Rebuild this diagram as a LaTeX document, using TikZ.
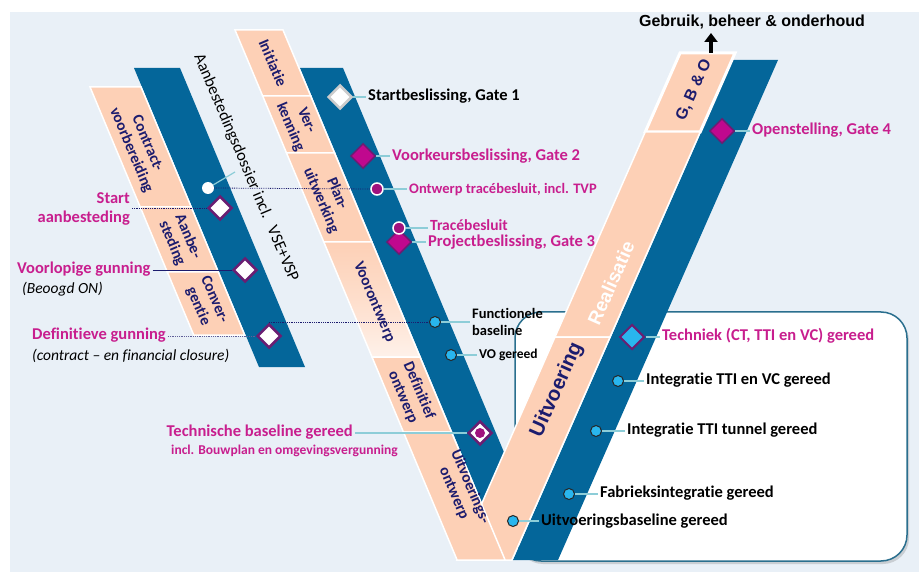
\documentclass[tikz,border=0pt]{standalone}
\usepackage{fontspec}
\setmainfont{Carlito}[Ligatures=NoCommon]
\newfontfamily\arialf{Liberation Sans}
\usetikzlibrary{arrows.meta,shapes.geometric,shadows}
\definecolor{bgc}{HTML}{E9F0F7}
\definecolor{peachc}{HTML}{FDD0B6}
\definecolor{bandc}{HTML}{04669A}
\definecolor{navyc}{HTML}{1C1C6E}
\definecolor{magc}{HTML}{C81E8E}
\definecolor{dmagc}{HTML}{C0088E}
\definecolor{purpc}{HTML}{6A1E72}
\definecolor{pdotc}{HTML}{A0127E}
\definecolor{cyanc}{HTML}{29B6EE}
\definecolor{tealc}{HTML}{8DCDD8}
\definecolor{boxc}{HTML}{2A6F8E}
\begin{document}
\begin{tikzpicture}[x=1pt,y=-1pt,
  seg/.style={fill=peachc, draw=white, line width=1.5pt, line join=miter},
  bandf/.style={fill=bandc},
  phase/.style={text=navyc, font=\fontsize{15.5}{17.5}\selectfont\bfseries, align=center, inner sep=0pt},
  lab/.style={anchor=west, inner xsep=2pt, inner ysep=0pt, text height=0.64em, text depth=0pt},
  labl/.style={anchor=east, inner xsep=2pt, inner ysep=0pt, text height=0.64em, text depth=0pt},
  fbig/.style={font=\fontsize{16.5}{19}\selectfont\bfseries},
  fmid/.style={font=\fontsize{16.5}{19}\selectfont\bfseries},
  fsml/.style={font=\fontsize{14.5}{16.5}\selectfont\bfseries},
  fit/.style={font=\fontsize{15.5}{17}\selectfont\itshape},
  wdia/.style={diamond, fill=white, draw=purpc, line width=2.5pt, minimum size=24pt, inner sep=0pt},
  mdia/.style={diamond, fill=dmagc, draw=purpc, line width=1.5pt, minimum size=25pt, inner sep=0pt},
  cdot/.style={circle, fill=cyanc, draw=black!85, line width=1pt, minimum size=11pt, inner sep=0pt},
  pdot/.style={circle, fill=pdotc, draw=white, line width=1.5pt, minimum size=12pt, inner sep=0pt},
  ptr/.style={draw=tealc, line width=1.2pt},
  dotl/.style={draw=navyc, densely dotted, line width=0.8pt}
]
% background
\fill[white] (0,0) rectangle (919,572);
\fill[bgc] (10,12) rectangle (919,572);
\useasboundingbox (0,0) rectangle (919,572);
% rounded box
\draw[fill=white, draw=boxc, line width=1.5pt, rounded corners=26pt,
  drop shadow={opacity=0.3, shadow xshift=2pt, shadow yshift=-3pt}] (515,312) rectangle (907,561);

% secondary arm
\fill[bandf] (134,68) -- (180,68) -- (305,367) -- (259,367) -- cycle;
\path[seg] (90,87) -- (141,87) -- (191.2,207) -- (140.2,207) -- cycle;
\path[seg] (140.2,207) -- (191.2,207) -- (218.3,272) -- (167.3,272) -- cycle;
\path[seg] (167.3,272) -- (218.3,272) -- (244.7,335) -- (193.7,335) -- cycle;

% left arm blue
\fill[bandf] (300,68) -- (343,68) -- (526.1,505) -- (483.1,505) -- cycle;
% right arm blue
\fill[bandf] (733,60) -- (778,60) -- (558,560) -- (513,560) -- cycle;
% right arm peach
\path[seg, line width=3pt] (680,53) -- (735,53) -- (700.2,132) -- (645.2,132) -- cycle;
\path[seg] (645.2,132) -- (700.2,132) -- (610,337) -- (555,337) -- cycle;
\path[seg] (555,337) -- (610,337) -- (511.9,560) -- (456.9,560) -- cycle;
% left arm peach
\path[seg] (235,30) -- (283,30) -- (310.7,96) -- (262.7,96) -- cycle;
\path[seg] (262.7,96) -- (310.7,96) -- (334.5,153) -- (286.5,153) -- cycle;
\path[seg] (286.5,153) -- (334.5,153) -- (371.8,242) -- (323.8,242) -- cycle;
\path[top color=peachc, bottom color=peachc!30!white, middle color=peachc!70!white] (323.8,242) -- (371.8,242) -- (420,357) -- (372,357) -- cycle;
\path[draw=white, line width=1.5pt] (323.8,242) -- (371.8,242) -- (420,357) -- (372,357) -- cycle;
\path[seg] (372,357) -- (420,357) -- (451.4,432) -- (403.4,432) -- cycle;
\path[seg] (403.4,432) -- (451.4,432) -- (505.1,560) -- (457.1,560) -- cycle;

% phase texts
\node[phase, rotate=-67] (p1) at (273,63) {Initiatie};
\node[phase, rotate=-67] (p2) at (298,124) {Ver-\\kenning};
\node[phase, rotate=-67] (p3) at (329,197) {Plan-\\uitwerking};
\node[phase, rotate=-67] (p4) at (374,302) {Voorontwerp};
\node[phase, rotate=-67] (p5) at (411,394) {Definitief\\ontwerp};
\node[phase, rotate=-67] (p6) at (462,490) {Uitvoerings-\\ontwerp};
\node[phase, rotate=-67] (s1) at (139,147) {Contract-\\voorbereiding};
\node[phase, rotate=-67] (s2) at (180,240) {Aanbe-\\steding};
\node[phase, rotate=-67] (s3) at (206,303) {Conver-\\gentie};
\node[inner sep=0pt, rotate=66, text=navyc, font=\arialf\fontsize{16}{18}\selectfont\bfseries] (r3) at (694,90) {G, B \& O};
\node[inner sep=0pt, rotate=66, text=white, font=\arialf\fontsize{19}{21}\selectfont\bfseries] (r2) at (611,283) {Realisatie};
\node[inner sep=0pt, rotate=66, text=navyc, font=\arialf\fontsize{20.5}{22}\selectfont\bfseries] (r1) at (557,390) {Uitvoering};

% aanbestedingsdossier text
\node[inner sep=0pt, rotate=-67, font=\fontsize{16.5}{18}\selectfont] (adoss) at (246,168) {Aanbestedingsdossier incl.\hspace{10pt}VSE+VSP};

% top
\node[inner sep=0pt, font=\arialf\fontsize{16}{18}\selectfont\bfseries] (gbo) at (752,22) {Gebruik, beheer \& onderhoud};
\coordinate (arb) at (711,53);
\coordinate (art) at (711,33);
\draw[line width=4pt, -{Triangle[width=13pt,length=9pt]}] (arb) -- (art);

% milestones
\node[wdia, draw=black!20] (g1) at (340,97) {};
\node[mdia] (g2) at (363,156) {};
\node[pdot] (otb) at (377,189) {};
\node[mdia] (g3) at (399,242) {};
\node[pdot] (tb) at (399,228) {};
\node[cdot] (fb) at (435,322) {};
\node[cdot] (vo) at (451,355) {};
\node[wdia, line width=2.5pt] (tbg) at (480,433) {};
\node[circle, fill=pdotc, minimum size=10pt, inner sep=0pt] (tbgi) at (480,433) {};
\node[cdot] (ub) at (513,521) {};
\node[cdot] (fi) at (569,494) {};
\node[cdot] (tt) at (596,431) {};
\node[cdot] (tv) at (618,381) {};
\node[mdia, fill=cyanc, line width=2pt] (tc) at (632,337) {};
\node[mdia] (g4) at (722,131) {};
\node[wdia] (sa) at (220,208) {};
\node[wdia] (vg) at (245,270) {};
\node[wdia] (dg) at (269,336) {};
\node[circle, fill=white, minimum size=12pt, inner sep=0pt] (wc) at (208,188) {};
\coordinate (aptr) at (235,172);

% labels
\node[lab, fbig] (lg1) at (366,97) {Startbeslissing, Gate 1};
\node[lab, fbig, text=magc] (lg2) at (390,157) {Voorkeursbeslissing, Gate 2};
\node[lab, fsml, text=magc] (lotb) at (407,190) {Ontwerp tracébesluit, incl. TVP};
\node[lab, font=\fontsize{15.5}{17}\selectfont\bfseries, text=magc] (ltb) at (428,227) {Tracébesluit};
\node[lab, fbig, text=magc] (lg3) at (426,243) {Projectbeslissing, Gate 3};
\node[anchor=west, inner xsep=2pt, inner ysep=0pt, fsml, align=left] (lfb) at (470,322) {Functionele\\baseline};
\node[lab, font=\fontsize{13.5}{15}\selectfont\bfseries] (lvo) at (477,355) {VO gereed};
\node[labl, fbig, text=magc] (ltbg) at (355,433) {Technische baseline gereed};
\node[lab, font=\fontsize{13.5}{15}\selectfont\bfseries, text=magc] (ltbg2) at (169,451) {incl. Bouwplan en omgevingsvergunning};
\node[lab, fmid] (lub) at (539,522) {Uitvoeringsbaseline gereed};
\node[lab, fmid] (lfi) at (598,494) {Fabrieksintegratie gereed};
\node[lab, fmid] (ltt) at (625,431) {Integratie TTI tunnel gereed};
\node[lab, fmid] (ltv) at (644,381) {Integratie TTI en VC gereed};
\node[lab, fbig, text=magc] (ltc) at (660,337) {Techniek (CT, TTI en VC) gereed};
\node[lab, fbig, text=magc] (lg4) at (750,131) {Openstelling, Gate 4};
\node[anchor=east, inner xsep=2pt, inner ysep=0pt, fbig, text=magc, align=right] (lsa) at (132,209) {Start\\aanbesteding};
\node[lab, fbig, text=magc] (lvg) at (15,270) {Voorlopige gunning};
\node[lab, fit] (lvg2) at (20,290) {(Beoogd ON)};
\node[lab, fbig, text=magc] (ldg) at (30,336) {Definitieve gunning};
\node[lab, fit] (ldg2) at (30,357) {(contract – en financial closure)};

% pointer lines
\draw[ptr] (g1.east) -- (g1.east -| lg1.west);
\draw[ptr] (g2.east) -- (g2.east -| lg2.west);
\draw[ptr] (otb.east) -- (otb.east -| lotb.west);
\draw[ptr] (tb.east) -- (tb.east -| ltb.west);
\draw[ptr] (g3.east) -- (g3.east -| lg3.west);
\draw[ptr] (fb.east) -- (fb.east -| lfb.west);
\draw[ptr] (vo.east) -- (vo.east -| lvo.west);
\draw[ptr] (ub.east) -- (ub.east -| lub.west);
\draw[ptr] (fi.east) -- (fi.east -| lfi.west);
\draw[ptr] (tt.east) -- (tt.east -| ltt.west);
\draw[ptr] (tv.east) -- (tv.east -| ltv.west);
\draw[ptr] (tc.east) -- (tc.east -| ltc.west);
\draw[ptr] (g4.east) -- (g4.east -| lg4.west);
\draw[ptr] (ltbg.east |- tbg) -- (tbg.west);
\draw[ptr] (wc) -- (aptr);
% dotted / navy lines
\draw[dotl] (wc.east) -- (otb.west);
\draw[dotl] (dg.north) -- (dg.north -| fb.west);
\draw[dotl] (lsa.east |- sa) -- (sa.west);
\draw[draw=navyc, line width=0.8pt] (lvg.east |- vg) -- (vg.west);
\draw[dotl, draw=navyc!70] (ldg.east |- dg) -- (dg.west);
\end{tikzpicture}
\end{document}
